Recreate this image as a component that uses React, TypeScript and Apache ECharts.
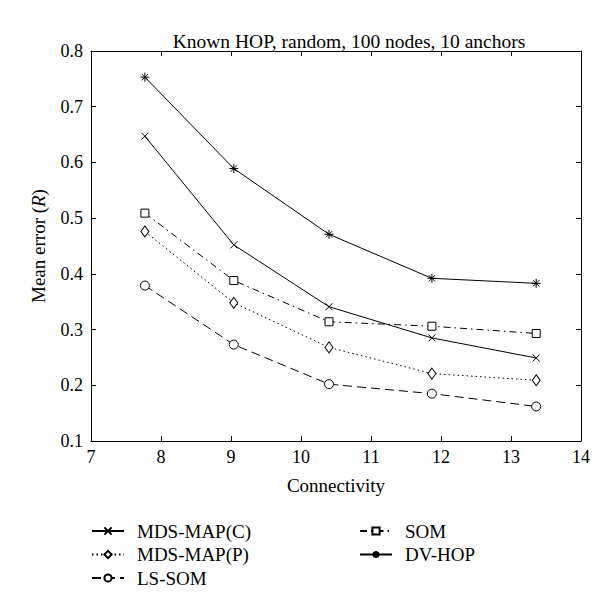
import React, { useEffect, useRef } from "react";
import * as echarts from "echarts";

const connectivity = [7.77, 9.04, 10.4, 11.87, 13.36];
const mdsMapC = [0.647, 0.452, 0.341, 0.285, 0.249];
const mdsMapP = [0.476, 0.348, 0.268, 0.221, 0.209];
const lsSom = [0.379, 0.273, 0.202, 0.185, 0.162];
const som = [0.509, 0.388, 0.314, 0.306, 0.293];
const dvHop = [0.753, 0.589, 0.471, 0.392, 0.383];

const seriesNames = ["MDS-MAP(C)", "MDS-MAP(P)", "LS-SOM", "SOM", "DV-HOP"];
const titleText = "Known HOP, random, 100 nodes, 10 anchors";
const xName = "Connectivity";

const FONT = "Liberation Serif";
const X_PATH = "path://M0,0L10,10M0,10L10,0";
const STAR_PATH = "path://M5,0L5,10M0,5L10,5M1.5,1.5L8.5,8.5M1.5,8.5L8.5,1.5";
const CIRCLE_PATH = "path://M5,0A5,5 0 1,1 5,10A5,5 0 1,1 5,0Z";
const SQUARE_PATH = "path://M0,0L10,0L10,10L0,10Z";
const DIAMOND_PATH = "path://M5,0L10,7L5,14L0,7Z";

function pairs(ys: number[]) {
  return connectivity.map((x, i) => [x, ys[i]]);
}

export default function App() {
  const ref = useRef<HTMLDivElement>(null);
  useEffect(() => {
    if (!ref.current) return;
    const chart = echarts.init(ref.current, undefined, { renderer: "svg" });
    const axisCommon = {
      axisLine: { show: true, lineStyle: { color: "#000", width: 1 } },
      axisTick: { show: true, inside: true, length: 5, lineStyle: { color: "#000" } },
      splitLine: { show: false },
    };
    const mk = (
      name: string,
      ys: number[],
      symbol: string,
      size: number | number[],
      type: any,
      fill: string
    ) => ({
      name,
      type: "line",
      data: pairs(ys),
      symbol,
      symbolSize: size,
      showSymbol: true,
      lineStyle: { color: "#000", width: 1, type },
      itemStyle: { color: fill, borderColor: "#000", borderWidth: 1 },
      z: 3,
    });
    const legendText = {
      fontFamily: FONT,
      fontSize: 19,
      color: "#000",
      lineHeight: 20,
      padding: [0, 0, 0, 8],
    };
    chart.setOption({
      animation: false,
      backgroundColor: "#fff",
      textStyle: { fontFamily: FONT, color: "#000" },
      title: {
        text: titleText,
        left: 336,
        top: 18,
        textAlign: "center",
        textStyle: { fontFamily: FONT, fontSize: 19.5, fontWeight: "normal", color: "#000" },
      },
      grid: { left: 83, right: 27, top: 43, bottom: 167, containLabel: false },
      xAxis: [
        {
          type: "value",
          min: 7,
          max: 14,
          interval: 1,
          name: xName,
          nameLocation: "middle",
          nameGap: 35,
          nameTextStyle: { fontFamily: FONT, fontSize: 19, color: "#000" },
          axisLabel: { fontFamily: FONT, fontSize: 18, color: "#000", margin: 7 },
          ...axisCommon,
        },
        {
          type: "value",
          position: "top",
          min: 7,
          max: 14,
          interval: 1,
          axisLabel: { show: false },
          ...axisCommon,
        },
      ],
      yAxis: [
        {
          type: "value",
          min: 0.1,
          max: 0.8,
          interval: 0.1,
          name: "{n|Mean error (}{i|R}{n|)}",
          nameLocation: "middle",
          nameGap: 43,
          nameRotate: 90,
          nameTextStyle: {
            rich: {
              n: { fontFamily: FONT, fontSize: 19, color: "#000" },
              i: { fontFamily: FONT, fontSize: 19, color: "#000", fontStyle: "italic" },
            },
          },
          axisLabel: {
            fontFamily: FONT,
            fontSize: 18,
            color: "#000",
            margin: 8,
            formatter: (v: number) => v.toFixed(1),
          },
          ...axisCommon,
        },
        {
          type: "value",
          position: "right",
          min: 0.1,
          max: 0.8,
          interval: 0.1,
          axisLabel: { show: false },
          ...axisCommon,
        },
      ],
      legend: [
        {
          data: seriesNames.slice(0, 3),
          orient: "vertical",
          left: 78,
          top: 508,
          height: 90,
          itemWidth: 32,
          itemHeight: 9,
          itemGap: 3.5,
          textStyle: legendText,
        },
        {
          data: seriesNames.slice(3),
          orient: "vertical",
          left: 346,
          top: 508,
          height: 90,
          itemWidth: 32,
          itemHeight: 9,
          itemGap: 3.5,
          textStyle: legendText,
        },
      ],
      series: [
        mk(seriesNames[0], mdsMapC, X_PATH, 7, "solid", "#000"),
        mk(seriesNames[1], mdsMapP, DIAMOND_PATH, [8, 11], [1.5, 3], "#fff"),
        mk(seriesNames[2], lsSom, CIRCLE_PATH, 9, [9, 5], "#fff"),
        mk(seriesNames[3], som, SQUARE_PATH, 8, [7, 4, 1.5, 4], "#fff"),
        mk(seriesNames[4], dvHop, STAR_PATH, 9, "solid", "#000"),
      ],
    });
    return () => chart.dispose();
  }, []);
  return <div ref={ref} style={{ width: 600, height: 600 }} />;
}
